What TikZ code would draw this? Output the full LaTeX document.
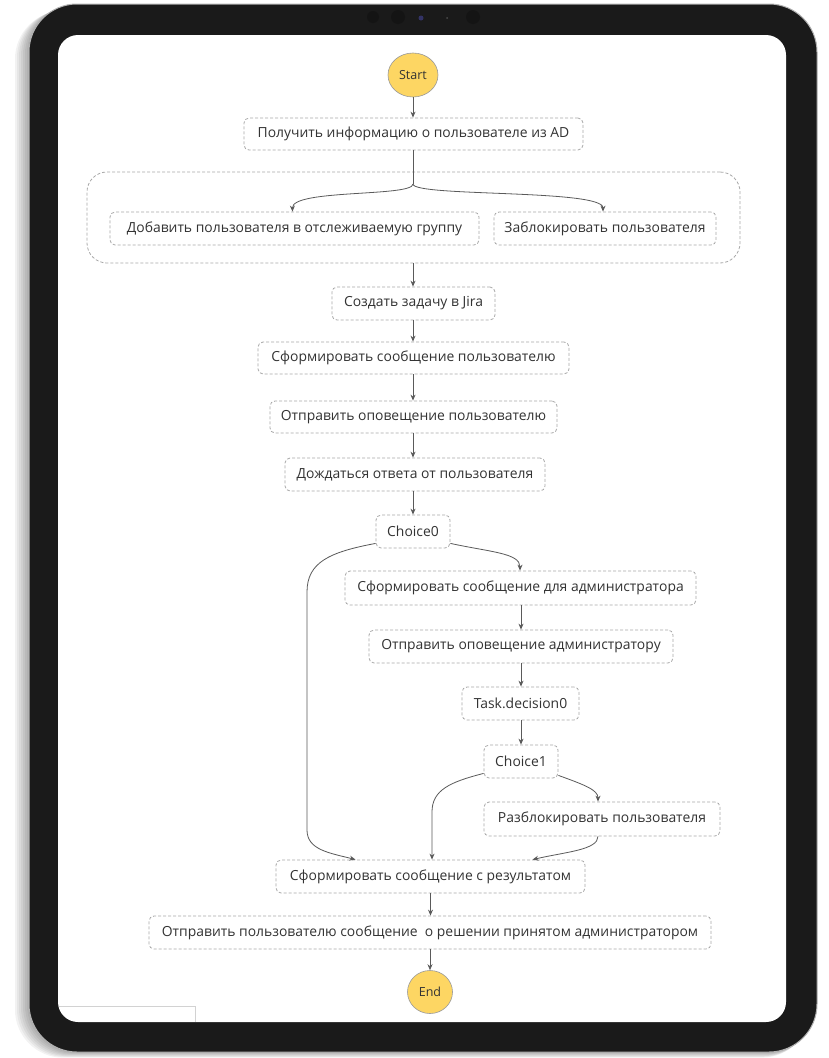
\documentclass[tikz,border=0pt]{standalone}
\usepackage{fontspec}
\setmainfont{Open Sans}
\usetikzlibrary{arrows.meta,calc,shapes.geometric}
\definecolor{frame}{HTML}{1A1A1A}
\definecolor{gold}{HTML}{FDD663}
\definecolor{boxline}{HTML}{A8A8A8}
\definecolor{arrowc}{HTML}{5A5A5A}
\definecolor{txt}{HTML}{333333}
\begin{document}
\begin{tikzpicture}[x=1pt,y=-1pt,
  task/.style={draw=boxline, line width=0.8pt, dash pattern=on 3pt off 2pt, rounded corners=5pt,
    fill=white, minimum height=33pt, inner sep=0pt, text=txt, font=\fontsize{13.9}{16}\selectfont},
  term/.style={ellipse, draw=gray!80, line width=0.6pt, fill=gold, inner sep=0pt, text=txt,
    font=\fontsize{12.5}{14}\selectfont},
  flow/.style={draw=arrowc, line width=0.8pt, -{Stealth[length=6pt,width=5pt]}},
  plain/.style={draw=arrowc, line width=0.8pt},
]
\useasboundingbox (0,0) rectangle (828,1058);
% shadow
\foreach \k in {1,...,7}{
  \fill[black, opacity=0.05, rounded corners=48pt] (29-2*\k,4+\k) rectangle (817-\k,1052+0.8*\k);
}
% tablet frame
\draw[gray!60, line width=1pt, fill=frame, rounded corners=48pt] (29,4) rectangle (817,1052);
\fill[white, rounded corners=20pt] (58,35) rectangle (786,1022);
% camera
\fill[black!92] (373,17) circle (6);
\fill[black!92] (398,17) circle (7);
\fill[blue!25!black!80] (421,18) circle (2.5);
\fill[black!70] (447,18) circle (1);
\fill[black!92] (473,17) circle (7);
% bottom-left small panel lines
\draw[gray!35, line width=0.8pt] (58.5,1006) -- (195,1006) -- (195,1022);

% nodes
\node[term, minimum width=50pt, minimum height=44pt] (start) at (413,75) {Start};
\node[task, minimum width=339pt, minimum height=32pt] (n1) at (413.5,134) {Получить информацию о пользователе из AD};
\node[task, minimum width=653pt, minimum height=91pt, rounded corners=20pt, fill=none] (par) at (413.5,217.5) {};
\node[task, minimum width=369pt] (lb) at (294.5,228.5) {Добавить пользователя в отслеживаемую группу};
\node[task, minimum width=222pt] (rb) at (605,228.5) {Заблокировать пользователя};
\node[task, minimum width=163pt] (jira) at (413.5,303.5) {Создать задачу в Jira};
\node[task, minimum width=311pt, minimum height=32pt] (msgu) at (413.5,358) {Сформировать сообщение пользователю};
\node[task, minimum width=287pt, minimum height=32pt] (notu) at (413.5,417) {Отправить оповещение пользователю};
\node[task, minimum width=260pt] (wait) at (415,474.5) {Дождаться ответа от пользователя};
\node[task, minimum width=74pt] (c0) at (413,531.5) {Choice0};
\node[task, minimum width=351pt, minimum height=34pt] (msga) at (520.5,588) {Сформировать сообщение для администратора};
\node[task, minimum width=304pt] (nota) at (521,646.5) {Отправить оповещение администратору};
\node[task, minimum width=117pt] (td) at (520.5,703.5) {Task.decision0};
\node[task, minimum width=74pt] (c1) at (521,761.5) {Choice1};
\node[task, minimum width=236pt, minimum height=34pt] (unb) at (602,819) {Разблокировать пользователя};
\node[task, minimum width=309pt] (res) at (430.5,876.5) {Сформировать сообщение с результатом};
\node[task, minimum width=562pt] (send) at (430,932.5) {Отправить пользователю сообщение\ \ о решении принятом администратором};
\node[term, minimum width=45pt, minimum height=43pt] (end) at (430,992) {End};

% connectors
\draw[flow] (start.south) -- (start.south |- n1.north);
\coordinate (split) at (413,184);
\draw[plain] (n1.south -| split) -- (split);
\draw[flow] (split) .. controls (413,197) and (292,189) .. ($(lb.north)+(-2,0)$);
\draw[flow] (split) .. controls (413,197) and (603,189) .. ($(rb.north)+(-2,0)$);
\draw[flow] (par.south -| split) -- (split |- jira.north);
\draw[flow] (jira.south -| split) -- (split |- msgu.north);
\draw[flow] (msgu.south -| split) -- (split |- notu.north);
\draw[flow] (notu.south -| split) -- (split |- wait.north);
\draw[flow] (wait.south -| split) -- (split |- c0.north);
% Choice0 branches
\draw[flow] ($(c0.south east)+(0,-5)$) .. controls (490,552) and (520,553) .. ($(msga.north)+(-0.5,0)$);
\draw[flow] ($(c0.south west)+(0,-5)$) .. controls (330,552) and (307,562) .. (307,592)
  -- (307,830) .. controls (307,850) and (330,853) .. ($(res.north)+(-75,0)$);
\draw[flow] (msga.south -| nota) -- (nota.north);
\draw[flow] (nota.south) -- (nota.south |- td.north);
\draw[flow] (td.south -| nota) -- (nota |- c1.north);
% Choice1 branches
\draw[flow] ($(c1.south west)+(0,-5)$) .. controls (450,782) and (432,790) .. (432,812) -- ($(res.north)+(1.5,0)$);
\draw[flow] ($(c1.south east)+(0,-3)$) .. controls (585,785) and (598,790) .. ($(unb.north)+(-4,0)$);
\draw[flow] ($(unb.south)+(-4,0)$) .. controls (598,850) and (565,852) .. ($(res.north)+(102,0)$);
\draw[flow] (res.south) -- (res.south |- send.north);
\draw[flow] (send.south) -- (end.north);
\end{tikzpicture}
\end{document}
